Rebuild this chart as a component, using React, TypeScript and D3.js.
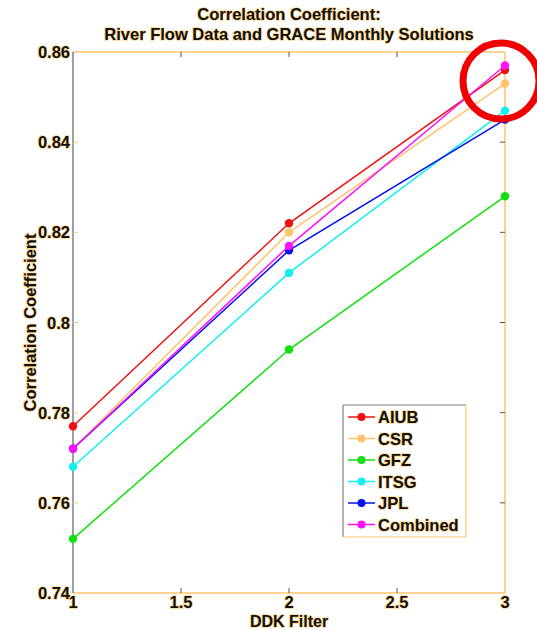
import React from "react";
import * as d3 from "d3";

const ddkFilters = [1, 2, 3];
const seriesNames = ["AIUB", "CSR", "GFZ", "ITSG", "JPL", "Combined"];
const aiub = [0.777, 0.822, 0.856];
const csr = [0.772, 0.82, 0.853];
const gfz = [0.752, 0.794, 0.828];
const itsg = [0.768, 0.811, 0.847];
const jpl = [0.772, 0.816, 0.845];
const combined = [0.772, 0.817, 0.857];
const xTicks = [1, 1.5, 2, 2.5, 3];
const yTicks = [0.74, 0.76, 0.78, 0.8, 0.82, 0.84, 0.86];
const titleLines = ["Correlation Coefficient:", "River Flow Data and GRACE Monthly Solutions"];

const seriesValues = [aiub, csr, gfz, itsg, jpl, combined];
const seriesColors = ["#f01010", "#ffc46a", "#10e010", "#10f0f0", "#0010f0", "#ff10ff"];

const W = 537;
const H = 630;
const plot = { left: 73, right: 505, top: 52, bottom: 593 };
const axisOrange = "#ffc66e";
const axisGray = "#808080";
const tickDark = "#555555";
const fs = 16.5;

const halo = {
  stroke: "#ffd58a",
  strokeWidth: 1.6,
  paintOrder: "stroke" as const,
  strokeLinejoin: "round" as const,
};

export default function App() {
  const x = d3.scaleLinear().domain([1, 3]).range([plot.left, plot.right]);
  const y = d3.scaleLinear().domain([0.74, 0.86]).range([plot.bottom, plot.top]);
  const line = d3
    .line<number>()
    .x((_, i) => x(ddkFilters[i]))
    .y((v) => y(v));

  const legend = { x: 343, y: 405, w: 123, h: 132, row: 21.5 };

  return (
    <svg
      width={W}
      height={H}
      style={{ position: "absolute", left: 0, top: 0, background: "#fff" }}
      fontFamily="Arial, 'Liberation Sans', sans-serif"
      fontWeight="bold"
    >
      {/* title */}
      {titleLines.map((t, i) => (
        <text key={t} x={289} y={20 + i * 20} textAnchor="middle" fontSize={fs} fill="#111" {...halo}>
          {t}
        </text>
      ))}

      {/* axes box */}
      <line x1={plot.left} x2={plot.right} y1={plot.top} y2={plot.top} stroke={axisOrange} strokeWidth={1.5} />
      <line x1={plot.right} x2={plot.right} y1={plot.top} y2={plot.bottom} stroke={axisOrange} strokeWidth={1.5} />
      <line x1={plot.left} x2={plot.right} y1={plot.bottom} y2={plot.bottom} stroke={axisOrange} strokeWidth={1.5} />
      <line x1={plot.left} x2={plot.left} y1={plot.top} y2={plot.bottom} stroke={axisGray} strokeWidth={1.5} />

      {/* x ticks */}
      {xTicks.map((t) => (
        <g key={"x" + t}>
          {t > 1 && t < 3 && (
            <>
              <line x1={x(t)} x2={x(t)} y1={plot.bottom} y2={plot.bottom - 5} stroke={tickDark} strokeWidth={1} />
              <line x1={x(t)} x2={x(t)} y1={plot.top} y2={plot.top + 5} stroke={tickDark} strokeWidth={1} />
            </>
          )}
          <text x={x(t)} y={plot.bottom + 15} textAnchor="middle" fontSize={fs} fill="#111" {...halo}>
            {t}
          </text>
        </g>
      ))}

      {/* y ticks */}
      {yTicks.map((t) => (
        <g key={"y" + t}>
          {t > 0.74 && t < 0.86 && (
            <>
              <line x1={plot.left} x2={plot.left + 5} y1={y(t)} y2={y(t)} stroke={axisOrange} strokeWidth={1} />
              <line x1={plot.right} x2={plot.right - 5} y1={y(t)} y2={y(t)} stroke={tickDark} strokeWidth={1} />
            </>
          )}
          <text x={plot.left - 3} y={y(t) + 6} textAnchor="end" fontSize={fs} fill="#111" {...halo}>
            {d3.format("")(t)}
          </text>
        </g>
      ))}

      {/* axis labels */}
      <text x={289} y={627} textAnchor="middle" fontSize={16} fill="#111" {...halo}>
        DDK Filter
      </text>
      <text
        transform={`translate(36, ${(plot.top + plot.bottom) / 2}) rotate(-90)`}
        textAnchor="middle"
        fontSize={fs}
        fill="#111"
        {...halo}
      >
        Correlation Coefficient
      </text>

      {/* series */}
      {seriesValues.map((vals, si) => (
        <g key={seriesNames[si]}>
          <path d={line(vals) ?? ""} fill="none" stroke={seriesColors[si]} strokeWidth={1.5} />
          {vals.map((v, i) => (
            <circle key={i} cx={x(ddkFilters[i])} cy={y(v)} r={4.2} fill={seriesColors[si]} />
          ))}
        </g>
      ))}

      {/* legend */}
      <rect x={legend.x} y={legend.y} width={legend.w} height={legend.h} fill="#fff" />
      <line x1={legend.x} x2={legend.x + legend.w} y1={legend.y} y2={legend.y} stroke={axisGray} strokeWidth={1.2} />
      <line x1={legend.x} x2={legend.x} y1={legend.y} y2={legend.y + legend.h} stroke={axisGray} strokeWidth={1.2} />
      <line x1={legend.x + legend.w} x2={legend.x + legend.w} y1={legend.y} y2={legend.y + legend.h} stroke={axisOrange} strokeWidth={1.2} />
      <line x1={legend.x} x2={legend.x + legend.w} y1={legend.y + legend.h} y2={legend.y + legend.h} stroke={axisOrange} strokeWidth={1.2} />
      {seriesNames.map((name, i) => {
        const cy = legend.y + 12 + i * legend.row;
        return (
          <g key={"lg" + name}>
            <line x1={legend.x + 5} x2={legend.x + 32} y1={cy} y2={cy} stroke={seriesColors[i]} strokeWidth={1.5} />
            <circle cx={legend.x + 18.5} cy={cy} r={4} fill={seriesColors[i]} />
            <text x={legend.x + 35} y={cy + 6} fontSize={fs} fill="#111" {...halo}>
              {name}
            </text>
          </g>
        );
      })}

      {/* highlight ring */}
      <circle cx={501} cy={81} r={38} fill="none" stroke="#f00000" strokeWidth={7} />
    </svg>
  );
}
